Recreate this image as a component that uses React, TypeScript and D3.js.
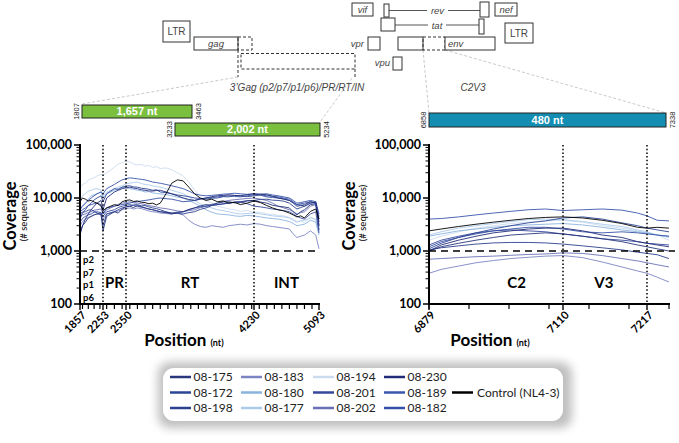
import React from "react";
import * as d3 from "d3";

// ---------- DATA ----------
const SERIES = ["08-175", "08-172", "08-198", "08-183", "08-180", "08-177", "08-194", "08-201", "08-202", "08-230", "08-189", "08-182"];
const SERIES_COLORS = ["#28367c", "#2c4696", "#2b418e", "#7c84c4", "#8bb3df", "#abcbeb", "#cddbef", "#37489c", "#6a70b6", "#222c78", "#3a56ad", "#3450a6"];
const CONTROL = "Control (NL4-3)";
const CONTROL_COLOR = "#000000";
const DRAW_ORDER = ["08-194", "08-177", "08-180", "08-183", "08-202", "08-201", "08-198", "08-175", "08-182", "08-172", "08-189", "08-230"];

const Y_TICKS = [100, 1000, 10000, 100000];
const LEFT_TICKS = [1857, 2253, 2550, 4230, 5093];
const RIGHT_TICKS = [6879, 7110, 7217];
const LEFT_REGIONS = ["PR", "RT", "INT"];
const LEFT_REGION_POS = [2400, 3390, 4660];
const GAG_SUB = ["p2", "p7", "p1", "p6"];
const RIGHT_REGIONS = ["C2", "V3"];
const RIGHT_REGION_POS = [7030, 7162];

// coverage in thousands of sequences
const LEFT_POS = [1857, 1900, 1950, 2000, 2050, 2100, 2150, 2220, 2253, 2300, 2400, 2450, 2500, 2550, 2600, 2650, 2700, 2750, 2800, 2850, 2900, 2950, 3000, 3075, 3150, 3225, 3300, 3375, 3450, 3525, 3600, 3675, 3750, 3825, 3900, 3975, 4050, 4140, 4230, 4315, 4400, 4475, 4550, 4625, 4700, 4750, 4800, 4850, 4900, 4980, 5050, 5093];
const L_194 = [15, 18, 19, 22, 23, 24, 26, 28, 27, 30, 38, 44, 46, 50, 48, 44, 42, 43, 40, 41, 38, 39, 36, 37, 34, 30, 26, 20, 14, 11, 9, 8, 7, 6.6, 6.2, 6, 5.6, 5.8, 5.3, 5.4, 5, 4.9, 4.7, 4.6, 4.3, 4.0, 3.6, 3.7, 3.4, 4.4, 3.8, 2.2];
const L_CTRL = [8.5, 10, 9.5, 8.8, 9, 8.4, 8, 7, 5.8, 6.5, 7.5, 7.2, 8.5, 9, 9.2, 8.6, 8.8, 8.3, 8.2, 7.8, 8, 7.4, 8, 12, 19, 22, 21, 16, 12, 10, 9, 9.5, 8.5, 8.8, 8, 8.3, 7.5, 8, 8.8, 8.2, 7.2, 6.5, 6, 5.7, 5.2, 4.8, 4.4, 4.6, 4.2, 5.6, 6.2, 4];
const L_175 = [2.2, 3, 3.5, 4.2, 4.5, 4.8, 5, 5, 2.4, 4.5, 5.5, 5.2, 6.2, 6.8, 7, 6.6, 7.2, 6.9, 6.5, 6.2, 6, 5.8, 5.5, 5.3, 5, 5.3, 5.5, 6.1, 6.5, 7.1, 7.5, 7.3, 8, 8.4, 8.5, 8.1, 8.2, 8.8, 9, 8.4, 8, 7.3, 7, 6.8, 6.5, 5.5, 4.8, 5.5, 6, 7.5, 7.8, 3];
const L_172 = [4, 5.2, 6, 7.2, 8, 9.2, 10, 11, 8.5, 12, 15, 14.5, 16, 16.8, 17, 16.2, 16, 15.3, 15, 14.6, 14, 14.3, 13, 12.6, 12, 11.4, 11, 10.6, 10, 9.8, 9.5, 9.9, 10, 10.6, 10.5, 11.2, 11, 10.6, 11, 11.3, 10.5, 10.2, 10, 9.6, 9, 8.2, 7.5, 7.4, 7, 8, 8.2, 4];
const L_198 = [5, 5.4, 5.5, 5.9, 6, 5.6, 5.2, 4.8, 3, 5, 5.5, 6, 6.5, 6.8, 7, 7.4, 7.5, 7.1, 7.2, 6.8, 6.5, 6.3, 6, 5.5, 5.2, 5.1, 5, 5.3, 5.5, 6.1, 6.5, 7.2, 7.5, 7.7, 8, 8.4, 8.5, 8.9, 9, 9.4, 9.5, 9.1, 9, 8.7, 8, 7, 6.2, 6.6, 7, 8, 8.5, 2.5];
const L_183 = [3, 3.6, 4, 4.3, 4.5, 4.8, 5, 5.2, 4, 5, 5.5, 5.7, 6, 6.3, 6.5, 6.2, 6.5, 6.3, 6, 5.7, 5.5, 5.4, 5.2, 5.1, 5, 5.2, 4.8, 3.8, 3.2, 2.9, 2.8, 3, 2.9, 2.8, 3, 3.1, 3.2, 3.1, 3.3, 3.2, 3, 2.9, 2.8, 2.7, 2.6, 2.1, 1.8, 1.9, 2, 2.4, 2, 1.1];
const L_180 = [6, 7, 8, 9.5, 11, 11.5, 12, 13, 10, 12, 14, 15, 16, 15.5, 15, 14.6, 14, 13.7, 13, 13.2, 12.5, 12.2, 12, 11.6, 11, 10.4, 10, 9, 8, 7, 6, 5.4, 5, 4.9, 4.8, 4.6, 4.5, 4.7, 4.6, 4.4, 4.2, 4.1, 4, 3.8, 3.6, 3.3, 3, 3.1, 3.2, 3.8, 3.5, 2];
const L_177 = [9, 11, 12, 13.5, 14, 14.8, 15, 14, 11, 13, 15, 16.2, 17, 18.5, 19, 19.6, 20, 18.8, 18, 17.6, 17, 16.4, 16, 15, 14, 13, 12, 10.5, 9, 7.8, 7, 6.5, 6, 5.8, 5.5, 5.2, 5, 5.1, 5.2, 5, 4.8, 4.6, 4.5, 4.4, 4.2, 3.8, 3.5, 3.7, 3.8, 4.2, 4, 2.5];
const L_201 = [3.5, 4.1, 4.5, 4.8, 5, 5.4, 5.5, 5.3, 4.5, 5.5, 6, 6.6, 7, 7.3, 7.5, 7.2, 7, 6.7, 6.5, 6.2, 6, 5.7, 5.5, 5.4, 5.2, 5.4, 5.5, 6, 6.5, 6.8, 7, 7.3, 7.5, 7.8, 8, 8.3, 8.5, 7.8, 7, 6.8, 6.5, 6.2, 6, 5.8, 5.5, 5, 4.5, 4.2, 4, 5, 5.5, 2.2];
const L_202 = [4.5, 4.8, 5, 5.3, 5.5, 5.9, 6, 6.2, 5, 6, 7, 7.6, 8, 8.2, 8.5, 8.1, 8, 7.8, 7.5, 7.2, 7, 6.8, 6.5, 6.3, 6, 5.7, 5.5, 5.8, 6, 6.6, 7, 7.6, 8, 8.6, 9, 9.3, 9.5, 9.8, 10, 9.5, 9, 8, 7, 6.5, 6, 5.6, 5, 5.3, 5.5, 7, 7.5, 3];
const L_230 = [2, 3, 4, 5, 6, 7, 8, 9, 6, 10, 13, 14, 15, 15.6, 16, 15.4, 15, 14.3, 14, 13.6, 13.5, 13.9, 14, 13, 12, 11, 10, 9.4, 9, 9.6, 10, 10.6, 11, 11.2, 11.5, 11.2, 11, 11.6, 12, 11.8, 11.5, 10.8, 10, 9.5, 9, 8, 7, 7.2, 7.5, 8.5, 8, 3.5];
const L_189 = [6, 7, 8, 9, 10, 11, 12, 13, 12, 15, 18, 20, 22, 23, 24, 23.5, 23, 22.5, 22, 21, 20, 19.5, 19, 18, 17, 16, 15, 13.5, 12, 11.3, 11, 11.2, 11.5, 11.8, 12, 12.3, 12, 11.7, 12, 11.5, 11, 10.8, 10.5, 10, 9.5, 8.5, 7.5, 7.8, 8, 8.5, 8, 4.5];
const L_182 = [5.5, 6, 6.5, 7.2, 7.5, 7.8, 8, 7.5, 5, 6.5, 7, 7.3, 7.5, 7.8, 8, 8.4, 8.5, 8.8, 9, 9.2, 9.5, 9.8, 10, 9.7, 9.5, 9, 8.5, 8.7, 9, 9.5, 10, 10.2, 10.5, 10.8, 11, 10.7, 10.5, 11, 11.5, 11.8, 12, 11.4, 11, 10.5, 10, 9, 8, 8.2, 8.5, 9, 8.5, 5];

const RIGHT_POS = [6879, 6900, 6930, 6960, 6990, 7020, 7050, 7080, 7110, 7135, 7160, 7185, 7205, 7217, 7230, 7245];
const R_189 = [4.0, 4.1, 4.4, 4.8, 5.2, 5.6, 6.0, 6.2, 5.8, 6.0, 6.2, 5.9, 5.2, 4.6, 3.8, 3.7];
const R_CTRL = [2.4, 2.6, 2.9, 3.2, 3.5, 3.8, 4.1, 4.3, 4.4, 4.2, 3.8, 3.3, 2.8, 2.7, 2.8, 2.7];
const R_177 = [2.0, 2.3, 2.7, 3.0, 3.3, 3.6, 3.9, 4.0, 3.9, 3.6, 3.2, 2.9, 2.5, 2.3, 2.0, 1.8];
const R_194 = [1.6, 1.9, 2.3, 2.7, 3.0, 3.3, 3.5, 3.7, 3.8, 3.5, 3.0, 2.7, 2.4, 2.2, 2.0, 1.6];
const R_172 = [1.1, 1.4, 1.8, 2.2, 2.6, 3.0, 3.4, 3.7, 4.2, 4.4, 4.0, 3.4, 3.0, 2.7, 2.5, 2.3];
const R_230 = [1.0, 1.3, 1.6, 1.9, 2.2, 2.4, 2.6, 2.7, 2.7, 2.4, 2.0, 1.8, 1.5, 1.4, 1.3, 1.2];
const R_182 = [1.2, 1.5, 1.8, 2.1, 2.4, 2.6, 2.8, 2.8, 2.6, 2.3, 2.2, 2.3, 2.2, 2.1, 2.0, 1.9];
const R_175 = [1.0, 1.2, 1.4, 1.6, 1.8, 2.0, 2.1, 2.2, 2.1, 1.9, 1.7, 1.5, 1.3, 1.2, 1.1, 1.0];
const R_198 = [1.05, 1.15, 1.25, 1.35, 1.42, 1.45, 1.45, 1.42, 1.35, 1.25, 1.15, 1.05, 0.95, 0.9, 0.85, 0.72];
const R_201 = [1.3, 1.6, 1.9, 2.2, 2.4, 2.5, 2.4, 2.3, 2.1, 1.9, 1.7, 1.6, 1.5, 1.4, 1.35, 1.3];
const R_202 = [0.7, 0.72, 0.75, 0.78, 0.8, 0.83, 0.86, 0.88, 0.92, 0.9, 0.82, 0.72, 0.65, 0.6, 0.55, 0.5];
const R_183 = [0.38, 0.45, 0.52, 0.6, 0.66, 0.72, 0.76, 0.8, 0.82, 0.75, 0.62, 0.5, 0.42, 0.38, 0.32, 0.26];
const R_180 = [1.9, 2.1, 2.4, 2.6, 2.8, 3.0, 3.1, 3.2, 3.3, 3.1, 2.8, 2.5, 2.3, 2.2, 2.0, 1.9];

const LEFT_VALUES: Record<string, number[]> = {
  "08-194": L_194, "08-175": L_175, "08-172": L_172, "08-198": L_198, "08-183": L_183, "08-180": L_180,
  "08-177": L_177, "08-201": L_201, "08-202": L_202, "08-230": L_230, "08-189": L_189, "08-182": L_182,
};
const RIGHT_VALUES: Record<string, number[]> = {
  "08-194": R_194, "08-175": R_175, "08-172": R_172, "08-198": R_198, "08-183": R_183, "08-180": R_180,
  "08-177": R_177, "08-201": R_201, "08-202": R_202, "08-230": R_230, "08-189": R_189, "08-182": R_182,
};
const UNIT = 1000;

// ---------- LAYOUT ----------
const W = 679, H = 443;
const Y_TOP = 145, Y_BOT = 304;
const FC = "Lato, 'Open Sans', sans-serif";
const FM = "'Liberation Sans', Arial, sans-serif";

const yS = d3.scaleLog().domain([100, 100000]).range([Y_BOT, Y_TOP]);
const xL = d3.scaleLinear().domain(LEFT_TICKS).range([80, 103, 126, 254, 319]);
const xR = d3.scaleLinear().domain([...RIGHT_TICKS, 7245]).range([429, 563, 647, 669]);

const minorY: number[] = [];
[100, 1000, 10000].forEach((d) => d3.range(2, 10).forEach((k) => minorY.push(d * k)));
const fmt = d3.format(",");

function Panel({ xs, pos, values, ctrl, ticks, minorX, x0, x1, dashEnd, regions, regionPos, coverX, posX }: any) {
  const line = d3.line<[number, number]>().x((d) => xs(d[0])).y((d) => yS(d[1] * UNIT));
  const mk = (vals: number[]) => line(pos.map((p: number, i: number) => [p, vals[i]] as [number, number])) || "";
  return (
    <g>
      {DRAW_ORDER.map((n) => (
        <path key={n} d={mk(values[n])} fill="none" stroke={SERIES_COLORS[SERIES.indexOf(n)]} strokeWidth={0.9} />
      ))}
      <path d={mk(ctrl)} fill="none" stroke={CONTROL_COLOR} strokeWidth={0.9} />
      <line x1={x0} x2={dashEnd} y1={yS(1000)} y2={yS(1000)} stroke="#000" strokeWidth={1.6} strokeDasharray="7,5" />
      {ticks.slice(1, ticks.length).filter((t: number) => xs(t) < x1 - 3).map((t: number) => (
        <line key={t} x1={xs(t)} x2={xs(t)} y1={Y_TOP} y2={Y_BOT} stroke="#000" strokeWidth={1.5} strokeDasharray="1.5,2.2" />
      ))}
      <line x1={x0} x2={x0} y1={Y_TOP - 1} y2={Y_BOT + 1} stroke="#000" strokeWidth={2} />
      <line x1={x0 - 1} x2={x1 + 1} y1={Y_BOT} y2={Y_BOT} stroke="#000" strokeWidth={2} />
      {Y_TICKS.map((t) => (
        <g key={t}>
          <line x1={x0 - 6} x2={x0} y1={yS(t)} y2={yS(t)} stroke="#000" strokeWidth={1.5} />
          <text x={x0 - 8} y={yS(t)} dy="0.35em" textAnchor="end" fontFamily={FC} fontWeight="bold" fontSize={12.5}>{fmt(t)}</text>
        </g>
      ))}
      {minorY.map((t) => (
        <line key={t} x1={x0 - 3.5} x2={x0} y1={yS(t)} y2={yS(t)} stroke="#000" strokeWidth={1} />
      ))}
      {minorX.map((t: number, i: number) => (
        <line key={i} x1={xs(t)} x2={xs(t)} y1={Y_BOT} y2={Y_BOT + 5} stroke="#000" strokeWidth={1.2} />
      ))}
      {ticks.map((t: number) => (
        <g key={t}>
          <line x1={xs(t)} x2={xs(t)} y1={Y_BOT} y2={Y_BOT + 6} stroke="#000" strokeWidth={1.4} />
          <text transform={`translate(${xs(t) + 4},${Y_BOT + 9}) rotate(-45)`} dy="0.35em" textAnchor="end" fontFamily={FC} fontWeight="bold" fontSize={11}>{t}</text>
        </g>
      ))}
      {regions.map((r: string, i: number) => (
        <text key={r} x={xs(regionPos[i])} y={288} textAnchor="middle" fontFamily={FC} fontWeight="bold" fontSize={15}>{r}</text>
      ))}
      <text transform={`translate(${coverX},216) rotate(-90)`} textAnchor="middle" fontFamily={FC} fontWeight="bold" fontSize={16.5}>Coverage</text>
      <text transform={`translate(${coverX + 11},213) rotate(-90)`} textAnchor="middle" fontFamily={FC} fontSize={9.5}>(# sequences)</text>
      <text x={posX} y={346} textAnchor="middle" fontFamily={FC} fontWeight="bold" fontSize={17}>
        Position <tspan fontSize={9}>(nt)</tspan>
      </text>
    </g>
  );
}

function GeneMap() {
  const st = { fill: "#fff", stroke: "#333", strokeWidth: 1 };
  const dashed = { fill: "none", stroke: "#333", strokeWidth: 1, strokeDasharray: "3,2" };
  const it = { fontFamily: FM, fontStyle: "italic", fontSize: 9.5, fill: "#444" } as any;
  const gz = { stroke: "#bbb", strokeWidth: 0.8, strokeDasharray: "3,2", fill: "none" };
  return (
    <g>
      <line x1={238} y1={77} x2={82} y2={104} {...gz} />
      <line x1={352} y1={78} x2={320} y2={122} {...gz} />
      <line x1={423} y1={50} x2={429} y2={113} {...gz} />
      <line x1={445} y1={50} x2={666} y2={113} {...gz} />
      <rect x={163} y={21} width={27} height={21} {...st} />
      <text x={176.5} y={35} textAnchor="middle" fontFamily={FM} fontSize={10} fill="#444">LTR</text>
      <rect x={505} y={23} width={28} height={20} {...st} />
      <text x={519} y={36.5} textAnchor="middle" fontFamily={FM} fontSize={10} fill="#444">LTR</text>
      <rect x={194} y={37} width={44} height={13} {...st} />
      <text x={216} y={47} textAnchor="middle" {...it}>gag</text>
      <rect x={238} y={37} width={14} height={13} {...dashed} />
      <rect x={241} y={53.5} width={114} height={15.5} {...dashed} />
      <line x1={238} x2={238} y1={50} y2={77} stroke="#333" strokeWidth={1} strokeDasharray="3,2" />
      <line x1={355} x2={355} y1={69} y2={78} stroke="#333" strokeWidth={1} strokeDasharray="3,2" />
      <text x={297} y={91} textAnchor="middle" {...it} fontSize={10}>3’Gag (p2/p7/p1/p6)/PR/RT/IN</text>
      <text x={473} y={91} textAnchor="middle" {...it} fontSize={10}>C2V3</text>
      <rect x={352} y={3} width={21} height={13} {...st} />
      <text x={362.5} y={13} textAnchor="middle" {...it}>vif</text>
      <line x1={389} x2={427} y1={10.5} y2={10.5} stroke="#555" strokeWidth={1} />
      <line x1={448} x2={480} y1={10.5} y2={10.5} stroke="#555" strokeWidth={1} />
      <rect x={384} y={4} width={5} height={13} {...st} />
      <rect x={480} y={2} width={9} height={15} {...st} />
      <text x={437.5} y={14} textAnchor="middle" {...it}>rev</text>
      <line x1={395} x2={428} y1={25} y2={25} stroke="#555" strokeWidth={1} />
      <line x1={446} x2={479} y1={25} y2={25} stroke="#555" strokeWidth={1} />
      <rect x={381} y={18} width={14} height={13} {...st} />
      <rect x={479} y={19} width={5} height={15} {...st} />
      <text x={437} y={28.5} textAnchor="middle" {...it}>tat</text>
      <rect x={495} y={3} width={22} height={13} {...st} />
      <text x={506} y={13} textAnchor="middle" {...it}>nef</text>
      <text x={364} y={47} textAnchor="end" {...it}>vpr</text>
      <rect x={368} y={37} width={12} height={13} {...st} />
      <text x={390} y={66} textAnchor="end" {...it}>vpu</text>
      <rect x={393} y={57} width={9} height={13} {...st} />
      <rect x={398} y={37} width={25} height={13} {...st} />
      <rect x={423} y={37} width={22} height={13} {...dashed} />
      <rect x={445} y={37} width={50} height={13} {...st} />
      <text x={448} y={47} {...it}>env</text>
    </g>
  );
}

function Bars() {
  const lbl = { fontFamily: FM, fontSize: 7.5, fill: "#222", textAnchor: "middle" } as any;
  const tx = { fontFamily: FM, fontSize: 11, fontWeight: "bold", fill: "#fff", textAnchor: "middle" } as any;
  const bars = [
    { x: 82, y: 105, w: 110, h: 13, c: "#7bbf3f", t: "1,657 nt", a: "1807", b: "3463" },
    { x: 175, y: 123, w: 145, h: 13, c: "#7bbf3f", t: "2,002 nt", a: "3233", b: "5234" },
    { x: 429, y: 113, w: 237, h: 14, c: "#138eb2", t: "480 nt", a: "6858", b: "7338" },
  ];
  return (
    <g>
      {bars.map((b) => (
        <g key={b.t}>
          <rect x={b.x} y={b.y} width={b.w} height={b.h} fill={b.c} stroke="#222" strokeWidth={1} />
          <text x={b.x + b.w / 2} y={b.y + b.h / 2} dy="0.36em" {...tx}>{b.t}</text>
          <text transform={`translate(${b.x - 3},${b.y + b.h / 2}) rotate(-90)`} {...lbl}>{b.a}</text>
          <text transform={`translate(${b.x + b.w + 8.5},${b.y + b.h / 2}) rotate(-90)`} {...lbl}>{b.b}</text>
        </g>
      ))}
    </g>
  );
}

function Legend() {
  const cols = [170, 241, 313, 384];
  const rows = [377, 392.5, 408];
  return (
    <g>
      <defs>
        <filter id="sh" x="-20%" y="-60%" width="140%" height="220%">
          <feGaussianBlur stdDeviation="5" />
        </filter>
      </defs>
      <rect x={158} y={362} width={414} height={66} rx={12} fill="#8a8a8a" opacity={0.55} filter="url(#sh)" />
      <rect x={163} y={368} width={400} height={53} rx={11} fill="#fff" />
      {SERIES.map((s, i) => {
        const cx = cols[Math.floor(i / 3)], cy = rows[i % 3];
        return (
          <g key={s}>
            <line x1={cx} x2={cx + 21} y1={cy} y2={cy} stroke={SERIES_COLORS[i]} strokeWidth={2.5} />
            <text x={cx + 23.5} y={cy} dy="0.35em" fontFamily={FC} fontSize={12} fill="#222">{s}</text>
          </g>
        );
      })}
      <line x1={452} x2={473} y1={rows[1]} y2={rows[1]} stroke={CONTROL_COLOR} strokeWidth={2.5} />
      <text x={477} y={rows[1]} dy="0.35em" fontFamily={FC} fontSize={12} fill="#222">{CONTROL}</text>
    </g>
  );
}

export default function App() {
  const minorLeft = d3.range(1900, 5093, 100);
  const minorRight = d3.range(7).map((i) => xR.invert(429 + i * 40));
  return (
    <svg width={W} height={H} style={{ position: "absolute", left: 0, top: 0, background: "#fff" }}>
      <rect width={W} height={H} fill="#fff" />
      <GeneMap />
      <Bars />
      <Panel xs={xL} pos={LEFT_POS} values={LEFT_VALUES} ctrl={L_CTRL} ticks={LEFT_TICKS} minorX={minorLeft}
        x0={80} x1={319} dashEnd={320} regions={LEFT_REGIONS} regionPos={LEFT_REGION_POS} coverX={16} posX={184} />
      <Panel xs={xR} pos={RIGHT_POS} values={RIGHT_VALUES} ctrl={R_CTRL} ticks={RIGHT_TICKS} minorX={minorRight}
        x0={429} x1={669} dashEnd={675} regions={RIGHT_REGIONS} regionPos={RIGHT_REGION_POS} coverX={355} posX={490} />
      {GAG_SUB.map((p, i) => (
        <text key={p} x={83} y={263 + i * 12.6} fontFamily={FC} fontWeight="bold" fontSize={9.5}>{p}</text>
      ))}
      <Legend />
    </svg>
  );
}
